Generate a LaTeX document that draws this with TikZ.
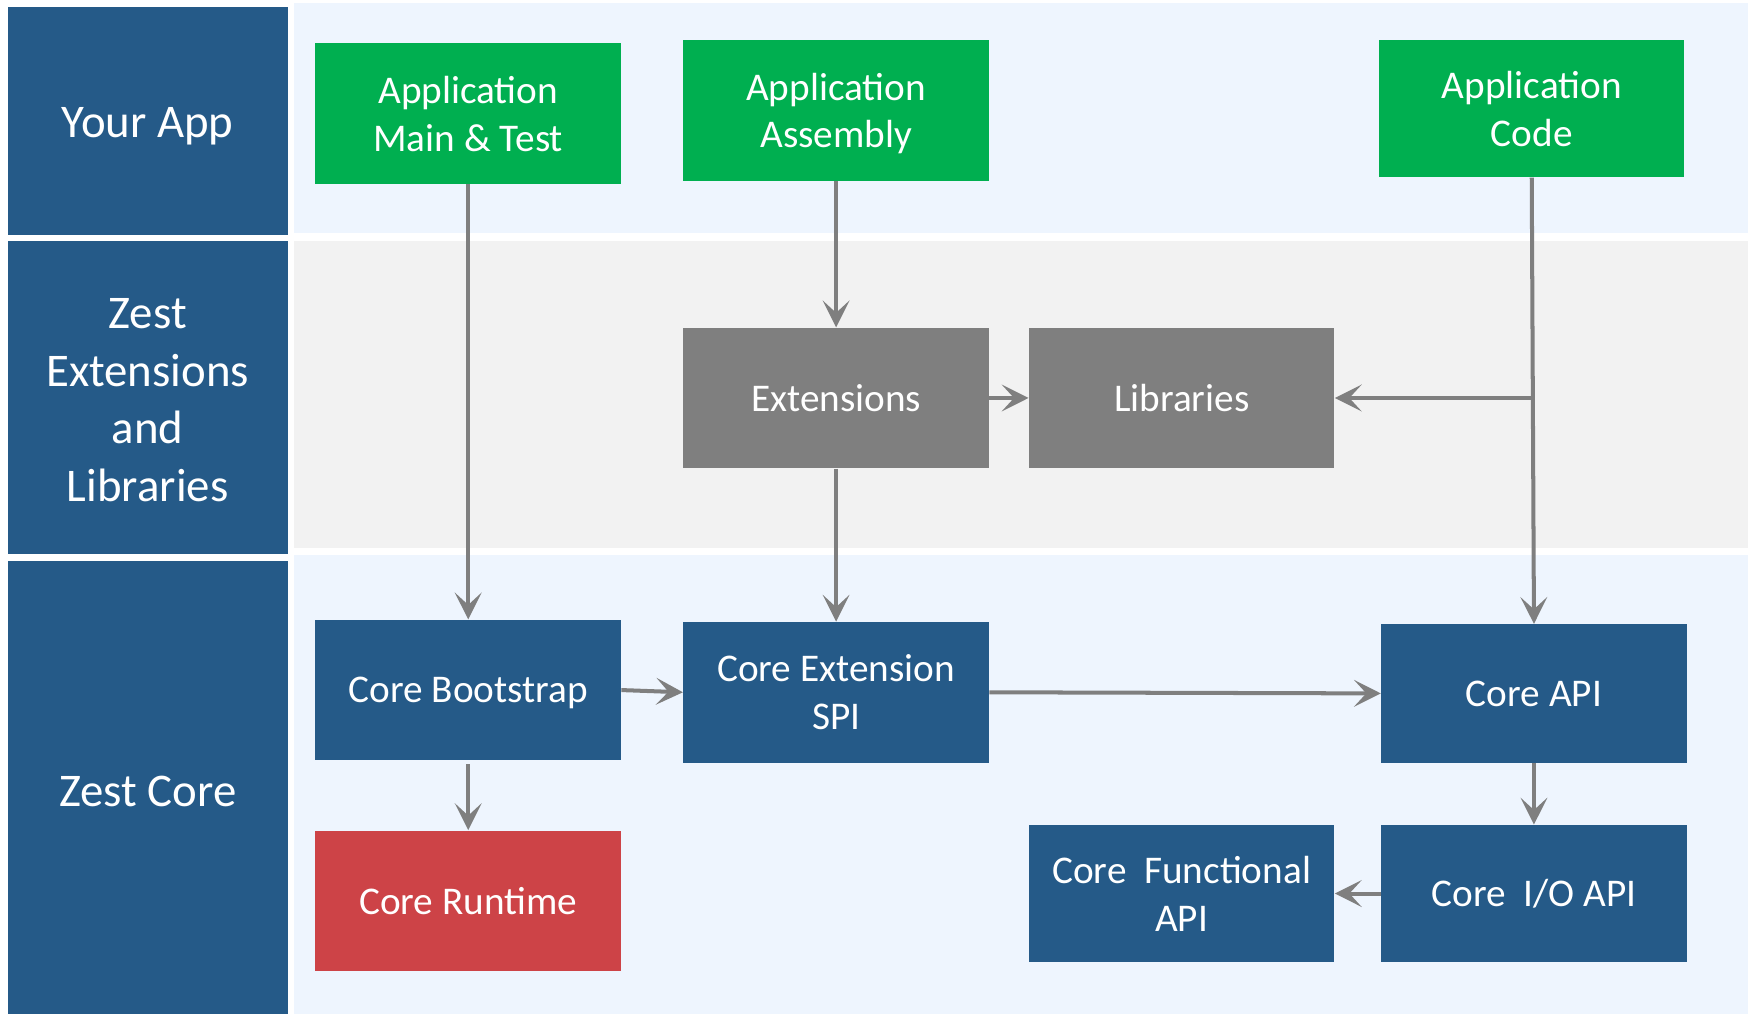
\documentclass[tikz,border=0pt]{standalone}
\usepackage{fontspec}
\setmainfont{Carlito}
\usetikzlibrary{arrows.meta,calc}
\definecolor{navy}{HTML}{255A88}
\definecolor{appgreen}{HTML}{00AF50}
\definecolor{boxgrey}{HTML}{7F7F7F}
\definecolor{corered}{HTML}{CD4347}
\definecolor{bandblue}{HTML}{EEF5FE}
\definecolor{bandgrey}{HTML}{F2F2F2}
\definecolor{linegrey}{HTML}{7F7F7F}
\tikzset{
  box/.style={minimum width=137pt, minimum height=63pt, inner sep=0pt, text=white,
    align=center, font=\fontsize{17.6}{21.5}\selectfont},
  greenbox/.style={box, fill=appgreen},
  greybox/.style={box, fill=boxgrey},
  bluebox/.style={box, fill=navy},
  redbox/.style={box, fill=corered},
  lane/.style={text=white, align=center, inner sep=0pt,
    font=\fontsize{21}{25.8}\selectfont},
  conn/.style={draw=linegrey, line width=1.8pt,
    -{Stealth[length=12pt,width=12pt,inset=5.5pt]}},
}
\begin{document}
\begin{tikzpicture}[x=0.5pt,y=-0.5pt]
\fill[white] (0,0) rectangle (1568,910);
\useasboundingbox (0,0) rectangle (1568,910);
% bands
\fill[bandblue] (264,3) rectangle (1568,209);
\fill[bandgrey] (264,216) rectangle (1568,492);
\fill[bandblue] (264,498) rectangle (1568,910);
% lane labels
\fill[navy] (7,6) rectangle (258,211);
\fill[navy] (7,216) rectangle (258,497);
\fill[navy] (7,503) rectangle (258,910);
\node[lane, text depth=0pt] (l1) at (132.5,110) {Your App};
\node[lane] (l2) at (132.5,359) {Zest\\Extensions\\and\\Libraries};
\node[lane] (l3) at (132.5,710) {Zest Core};
% boxes
\node[greenbox] (main) at (420,102) {Application\\Main \& Test};
\node[greenbox, text depth=0pt] (asm) at (750,99) {Application\\Assembly};
\node[greenbox, minimum height=61.5pt] (code) at (1374,97.5) {Application\\Code};
\node[greybox] (ext) at (750,357) {Extensions};
\node[greybox] (lib) at (1060,357) {Libraries};
\node[bluebox, text depth=0pt] (boot) at (420,619) {Core Bootstrap};
\node[bluebox] (spi) at (750,621) {Core Extension\\SPI};
\node[bluebox, minimum height=62pt] (capi) at (1376,622) {Core API};
\node[redbox] (rt) at (420,808) {Core Runtime};
\node[bluebox, minimum height=61.5pt] (func) at (1060,801.5) {Core~~Functional\\API};
\node[bluebox, minimum height=61.5pt] (io) at (1376,801.5) {Core~~I/O API};
% connectors
\draw[conn] (main.south) -- (boot.north);
\draw[conn] (asm.south) -- (ext.north);
\draw[conn] (ext.east) -- (lib.west);
\draw[conn] (code.south) -- (capi.north);
\coordinate (br) at ($(code.south)!0.5!(capi.north)$);
\coordinate (brl) at (br |- lib.east);
\draw[conn] (brl) -- (lib.east);
\draw[conn] (ext.south) -- (spi.north);
\draw[conn] (boot.east) -- (spi.west);
\draw[conn] (spi.east) -- (capi.west);
\draw[conn] ($(boot.south)+(0,3)$) -- (rt.north);
\draw[conn] (capi.south) -- (io.north);
\draw[conn] (io.west) -- (func.east);
\end{tikzpicture}
\end{document}
